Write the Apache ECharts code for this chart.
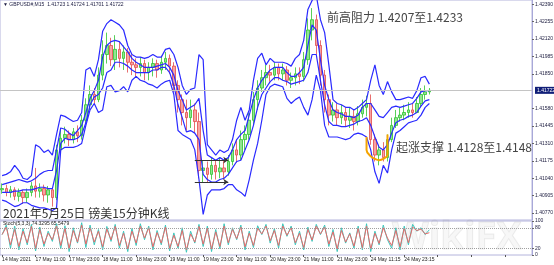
<!DOCTYPE html>
<html><head><meta charset="utf-8">
<script src="https://cdn.jsdelivr.net/npm/echarts@6/dist/echarts.min.js"></script>
<style>html,body{margin:0;padding:0;background:#fff;}#c{width:554px;height:265px;}</style>
</head><body><div id="c"></div>
<script>
// ---- data (GBPUSD M15, one sample per 1.5h) ----
const timeLabels = ['14 May 2021','17 May 11:00','17 May 23:00','18 May 11:00','18 May 23:00','19 May 11:00','19 May 23:00','20 May 11:00','20 May 23:00','21 May 11:00','21 May 23:00','24 May 11:15','24 May 23:15'];
const priceTicks = [1.40770,1.40905,1.41040,1.41175,1.41310,1.41445,1.41580,1.41850,1.41985,1.42120,1.42255,1.42390];
const stochTicks = [0,20,80,100];
const stochLevels = [20,80];
const lastPrice = 1.41722;

const openP = [
1.4095,1.4096,1.4093,1.4095,1.4090,1.4093,1.4089,1.4093,1.4098,1.4094,
1.4096,1.4091,1.4095,1.4089,1.4126,1.4135,1.4138,1.4134,1.4140,1.4137,
1.4149,1.4161,1.4169,1.4165,1.4184,1.4200,1.4207,1.4196,1.4204,1.4197,
1.4202,1.4194,1.4192,1.4190,1.4193,1.4186,1.4190,1.4193,1.4188,1.4194,
1.4197,1.4191,1.4176,1.4165,1.4155,1.4151,1.4157,1.4148,1.4110,1.4112,
1.4107,1.4114,1.4109,1.4112,1.4109,1.4117,1.4126,1.4122,1.4134,1.4138,
1.4149,1.4165,1.4174,1.4182,1.4186,1.4184,1.4190,1.4185,1.4188,1.4180,
1.4182,1.4185,1.4183,1.4196,1.4219,1.4227,1.4207,1.4184,1.4165,1.4153,
1.4157,1.4151,1.4155,1.4149,1.4152,1.4148,1.4154,1.4159,1.4162,1.4134,
1.4122,1.4126,1.4120,1.4134,1.4145,1.4151,1.4153,1.4155,1.4157,1.4155,
1.4162,1.4169,1.4171];
const closeP = [
1.4096,1.4093,1.4095,1.4090,1.4093,1.4089,1.4093,1.4098,1.4094,1.4096,
1.4091,1.4095,1.4089,1.4126,1.4135,1.4138,1.4134,1.4140,1.4137,1.4149,
1.4161,1.4169,1.4165,1.4184,1.4200,1.4207,1.4196,1.4204,1.4197,1.4202,
1.4194,1.4192,1.4190,1.4193,1.4186,1.4190,1.4193,1.4188,1.4194,1.4197,
1.4191,1.4176,1.4165,1.4155,1.4151,1.4157,1.4148,1.4110,1.4112,1.4107,
1.4114,1.4109,1.4112,1.4109,1.4117,1.4126,1.4122,1.4134,1.4138,1.4149,
1.4165,1.4174,1.4182,1.4186,1.4184,1.4190,1.4185,1.4188,1.4180,1.4182,
1.4185,1.4183,1.4196,1.4219,1.4227,1.4207,1.4184,1.4165,1.4153,1.4157,
1.4151,1.4155,1.4149,1.4152,1.4148,1.4154,1.4159,1.4162,1.4134,1.4122,
1.4126,1.4120,1.4134,1.4145,1.4151,1.4153,1.4155,1.4157,1.4155,1.4162,
1.4169,1.4171,1.41722];
const highP = [
1.4100,1.4099,1.4098,1.4097,1.4096,1.4095,1.4096,1.4101,1.4112,1.4100,
1.4099,1.4098,1.4097,1.4130,1.4143,1.4144,1.4141,1.4143,1.4145,1.4153,
1.4166,1.4176,1.4174,1.4190,1.4211,1.4217,1.4213,1.4215,1.4210,1.4207,
1.4205,1.4200,1.4197,1.4198,1.4196,1.4194,1.4197,1.4196,1.4199,1.4202,
1.4200,1.4194,1.4180,1.4169,1.4165,1.4165,1.4162,1.4155,1.4118,1.4117,
1.4120,1.4118,1.4120,1.4118,1.4122,1.4131,1.4134,1.4141,1.4145,1.4155,
1.4171,1.4180,1.4188,1.4192,1.4192,1.4194,1.4193,1.4193,1.4191,1.4186,
1.4190,1.4190,1.4202,1.4228,1.4236,1.4231,1.4211,1.4188,1.4169,1.4163,
1.4162,1.4161,1.4159,1.4159,1.4157,1.4160,1.4165,1.4168,1.4169,1.4138,
1.4130,1.4132,1.4138,1.4151,1.4157,1.4159,1.4161,1.4163,1.4162,1.4167,
1.4174,1.4176,1.4174];
const lowP = [
1.4092,1.4090,1.4089,1.4087,1.4086,1.4084,1.4085,1.4090,1.4089,1.4089,
1.4086,1.4085,1.4082,1.4087,1.4124,1.4131,1.4129,1.4131,1.4132,1.4134,
1.4146,1.4157,1.4161,1.4163,1.4180,1.4193,1.4191,1.4188,1.4190,1.4188,
1.4186,1.4184,1.4182,1.4183,1.4180,1.4180,1.4183,1.4182,1.4185,1.4188,
1.4185,1.4171,1.4155,1.4145,1.4141,1.4143,1.4139,1.4104,1.4101,1.4101,
1.4103,1.4103,1.4104,1.4103,1.4106,1.4114,1.4116,1.4118,1.4126,1.4134,
1.4145,1.4157,1.4171,1.4176,1.4179,1.4180,1.4180,1.4180,1.4176,1.4174,
1.4176,1.4177,1.4179,1.4192,1.4211,1.4200,1.4176,1.4155,1.4145,1.4148,
1.4145,1.4146,1.4144,1.4143,1.4141,1.4145,1.4151,1.4152,1.4130,1.4117,
1.4114,1.4117,1.4117,1.4132,1.4143,1.4148,1.4149,1.4151,1.4151,1.4155,
1.4159,1.4165,1.4169];

const bandUpperOuter = [
1.4106,1.4107,1.4109,1.4114,1.4110,1.4104,1.4103,1.4106,1.4130,1.4128,
1.4124,1.4126,1.4122,1.4138,1.4153,1.4152,1.4150,1.4148,1.4149,1.4155,
1.4188,1.4190,1.4183,1.4196,1.4218,1.4224,1.4227,1.4225,1.4223,1.4219,
1.4207,1.4200,1.4198,1.4198,1.4197,1.4198,1.4200,1.4198,1.4198,1.4204,
1.4205,1.4200,1.4190,1.4176,1.4169,1.4173,1.4174,1.4200,1.4196,1.4130,
1.4126,1.4122,1.4126,1.4124,1.4126,1.4134,1.4149,1.4159,1.4149,1.4157,
1.4180,1.4197,1.4201,1.4192,1.4197,1.4194,1.4194,1.4194,1.4193,1.4191,
1.4197,1.4200,1.4211,1.4235,1.4242,1.4246,1.4227,1.4217,1.4192,1.4165,
1.4162,1.4161,1.4159,1.4159,1.4157,1.4159,1.4162,1.4165,1.4180,1.4192,
1.4176,1.4169,1.4179,1.4171,1.4165,1.4165,1.4166,1.4167,1.4166,1.4172,
1.4182,1.4183,1.4177];
const bandUpperInner = [
1.4099,1.4100,1.4101,1.4102,1.4103,1.4102,1.4101,1.4102,1.4104,1.4107,
1.4109,1.4110,1.4110,1.4126,1.4143,1.4142,1.4139,1.4137,1.4141,1.4145,
1.4155,1.4166,1.4172,1.4180,1.4198,1.4207,1.4210,1.4211,1.4210,1.4206,
1.4202,1.4197,1.4194,1.4192,1.4190,1.4190,1.4190,1.4191,1.4192,1.4193,
1.4190,1.4184,1.4172,1.4165,1.4157,1.4159,1.4161,1.4166,1.4141,1.4122,
1.4120,1.4118,1.4120,1.4118,1.4120,1.4126,1.4134,1.4138,1.4141,1.4153,
1.4165,1.4174,1.4180,1.4184,1.4188,1.4190,1.4190,1.4190,1.4186,1.4183,
1.4183,1.4186,1.4190,1.4207,1.4223,1.4219,1.4196,1.4176,1.4165,1.4157,
1.4155,1.4154,1.4152,1.4152,1.4151,1.4153,1.4159,1.4162,1.4162,1.4157,
1.4152,1.4151,1.4155,1.4159,1.4160,1.4159,1.4160,1.4161,1.4162,1.4166,
1.4171,1.4172,1.4172];
const bandLowerInner = [
1.4093,1.4093,1.4093,1.4094,1.4094,1.4095,1.4095,1.4095,1.4096,1.4097,
1.4097,1.4096,1.4096,1.4110,1.4131,1.4135,1.4134,1.4134,1.4135,1.4138,
1.4147,1.4161,1.4167,1.4169,1.4174,1.4186,1.4188,1.4194,1.4194,1.4193,
1.4191,1.4188,1.4186,1.4186,1.4186,1.4186,1.4188,1.4188,1.4190,1.4190,
1.4186,1.4176,1.4161,1.4151,1.4140,1.4141,1.4139,1.4134,1.4107,1.4103,
1.4101,1.4101,1.4103,1.4104,1.4107,1.4112,1.4117,1.4118,1.4126,1.4134,
1.4145,1.4159,1.4169,1.4174,1.4179,1.4182,1.4182,1.4180,1.4179,1.4177,
1.4178,1.4179,1.4180,1.4186,1.4200,1.4200,1.4180,1.4161,1.4148,1.4145,
1.4145,1.4144,1.4144,1.4145,1.4146,1.4148,1.4149,1.4151,1.4145,1.4136,
1.4128,1.4126,1.4130,1.4139,1.4147,1.4149,1.4150,1.4152,1.4153,1.4155,
1.4160,1.4164,1.4165];
const bandLowerOuter = [
1.4087,1.4086,1.4084,1.4082,1.4083,1.4085,1.4085,1.4083,1.4082,1.4081,
1.4081,1.4080,1.4079,1.4081,1.4126,1.4128,1.4128,1.4128,1.4129,1.4131,
1.4145,1.4157,1.4162,1.4155,1.4157,1.4175,1.4176,1.4171,1.4172,1.4175,
1.4171,1.4180,1.4183,1.4180,1.4179,1.4177,1.4176,1.4174,1.4177,1.4179,
1.4180,1.4169,1.4141,1.4138,1.4136,1.4134,1.4126,1.4103,1.4076,1.4091,
1.4095,1.4095,1.4095,1.4096,1.4099,1.4099,1.4095,1.4093,1.4090,1.4103,
1.4118,1.4131,1.4149,1.4169,1.4175,1.4177,1.4176,1.4175,1.4166,1.4162,
1.4165,1.4167,1.4159,1.4153,1.4165,1.4184,1.4172,1.4145,1.4136,1.4136,
1.4136,1.4135,1.4134,1.4135,1.4138,1.4139,1.4138,1.4136,1.4126,1.4109,
1.4100,1.4114,1.4108,1.4126,1.4139,1.4141,1.4144,1.4147,1.4148,1.4149,
1.4153,1.4159,1.4162];

const stochK = [
60,88,20,85,15,78,30,90,12,82,
25,70,40,92,18,86,10,80,35,95,
22,88,30,75,15,84,40,90,20,70,
10,78,28,92,45,85,15,72,30,88,
12,65,20,80,8,70,35,90,25,85,
10,75,18,92,30,80,45,88,15,70,
22,86,60,90,35,78,20,92,55,85,
30,70,15,82,40,90,60,88,25,75,
10,80,35,65,20,85,15,92,10,70,
30,88,45,20,80,15,85,30,90,70,
80,60,74.33];
const stochD = [
60,82,30,75,25,70,36,84,20,75,
32,64,45,85,28,78,20,72,38,88,
32,80,38,70,24,76,45,84,28,64,
18,70,35,85,50,80,24,66,35,82,
20,58,25,72,15,62,38,84,32,78,
18,68,25,85,36,75,48,82,24,64,
28,78,62,85,42,72,28,85,58,80,
36,64,22,75,44,85,62,82,32,68,
18,72,38,62,26,78,22,85,18,64,
34,80,50,28,72,24,78,36,82,72,
76,62,65.55];

// annotation marks (category index, price)
const arrowLevels = [1.41181, 1.41011];
const arrowRange = [46, 54];
const supportMarkX = [87, 87, 88, 89, 90, 91, 92, 92];
const supportMarkY = [1.4136, 1.4126, 1.4121, 1.4119, 1.4118, 1.4119, 1.4122, 1.4138];
const categoryCount = 127;

// ---- chart ----
const cats = Array.from({length: categoryCount}, (_, i) => String(i));
const candles = openP.map((o, i) => [o, closeP[i], lowP[i], highP[i]]);
const smallFont = '"Liberation Sans", Arial, sans-serif';
const cjk = '"Noto Sans CJK SC", sans-serif';
const bandStyle = {color: '#2a2aff', width: 1.2};

function bandSeries(name, data) {
  return {name, type: 'line', data, xAxisIndex: 0, yAxisIndex: 0, showSymbol: false,
    symbol: 'none', lineStyle: bandStyle, silent: true, z: 3, clip: true};
}

const chart = echarts.init(document.getElementById('c'), null, {renderer: 'canvas'});
chart.setOption({
  animation: false,
  backgroundColor: '#ffffff',
  grid: [
    {left: 0, right: 22, top: 0, height: 220, show: true, borderColor: '#b4b4dc', borderWidth: 1, outerBoundsMode: 'none', containLabel: false},
    {left: 0, right: 22, top: 221, height: 34, show: true, borderColor: '#b4b4dc', borderWidth: 1, outerBoundsMode: 'none', containLabel: false}
  ],
  xAxis: [
    {type: 'category', gridIndex: 0, data: cats, boundaryGap: true, show: false},
    {type: 'category', gridIndex: 1, data: cats, boundaryGap: true,
     axisLine: {show: false},
     axisTick: {show: true, interval: 7, alignWithLabel: true, length: 2, lineStyle: {color: '#555'}},
     axisLabel: {show: true, interval: 7, align: 'left', margin: 2, fontSize: 5, color: '#222', fontFamily: smallFont,
       formatter: (v, idx) => (idx % 8 === 0 && timeLabels[idx / 8]) ? timeLabels[idx / 8] : ''}}
  ],
  yAxis: [
    {type: 'value', gridIndex: 0, position: 'right', min: 1.40716, max: 1.42423,
     splitLine: {show: false},
     axisLine: {show: true, lineStyle: {color: '#a8a8d8'}},
     axisTick: {show: true, length: 2, customValues: priceTicks, lineStyle: {color: '#666'}},
     axisLabel: {show: true, customValues: priceTicks, margin: 3, fontSize: 5, color: '#222244', fontFamily: smallFont,
       formatter: v => v.toFixed(5)}},
    {type: 'value', gridIndex: 1, position: 'right', min: 0, max: 100,
     splitLine: {show: false},
     axisLine: {show: true, lineStyle: {color: '#a8a8d8'}},
     axisTick: {show: true, length: 2, customValues: stochTicks, lineStyle: {color: '#666'}},
     axisLabel: {show: true, customValues: stochTicks, margin: 3, fontSize: 5, color: '#222244', fontFamily: smallFont}}
  ],
  series: [
    {name: 'GBPUSD', type: 'candlestick', xAxisIndex: 0, yAxisIndex: 0, data: candles, barWidth: 3, z: 2,
     itemStyle: {color: 'rgba(110,220,110,0.75)', color0: 'rgba(245,140,140,0.8)', borderColor: '#2fc42f', borderColor0: '#e24a4a', borderWidth: 0.8},
     markLine: {silent: true, symbol: ['none', 'arrow'], symbolSize: 5, animation: false,
       lineStyle: {color: '#333', width: 1, type: 'solid'}, label: {show: false},
       data: arrowLevels.map(p => [{coord: [arrowRange[0], p]}, {coord: [arrowRange[1], p]}])}},
    bandSeries('upperOuter', bandUpperOuter),
    bandSeries('upperInner', bandUpperInner),
    bandSeries('lowerInner', bandLowerInner),
    Object.assign(bandSeries('lowerOuter', bandLowerOuter), {
      markLine: {silent: true, symbol: 'none', animation: false,
        lineStyle: {color: '#c4c4c4', width: 1, type: 'solid'},
        label: {show: true, position: 'end', formatter: lastPrice.toFixed(5), color: '#fff', backgroundColor: '#101e78',
          padding: [1, 2], fontSize: 5, fontFamily: smallFont, distance: 3},
        data: [[{coord: [0, lastPrice], x: 0}, {coord: [categoryCount - 1, lastPrice], x: 532}]]}}),
    {name: 'support', type: 'line', xAxisIndex: 0, yAxisIndex: 0, smooth: 0.4, showSymbol: false, symbol: 'none',
     data: supportMarkX.map((x, i) => [x, supportMarkY[i]]), lineStyle: {color: '#f5a400', width: 2}, z: 5, silent: true},
    {name: 'StochMain', type: 'line', xAxisIndex: 1, yAxisIndex: 1, data: stochK, showSymbol: false, symbol: 'none',
     lineStyle: {color: '#3cc7bd', width: 1}, silent: true,
     markLine: {silent: true, symbol: 'none', animation: false, label: {show: false},
       lineStyle: {color: '#a0a0a0', width: 1, type: 'dotted'}, data: stochLevels.map(v => ({yAxis: v}))}},
    {name: 'StochSignal', type: 'line', xAxisIndex: 1, yAxisIndex: 1, data: stochD, showSymbol: false, symbol: 'none',
     lineStyle: {color: '#e56a6a', width: 1}, silent: true}
  ],
  graphic: [
    {type: 'text', x: 3, y: 5, style: {text: '▼ GBPUSD#,M15  1.41723 1.41724 1.41701 1.41722', font: '5px ' + smallFont, fill: '#1a1a40', verticalAlign: 'middle'}},
    {type: 'text', x: 327, y: 17, style: {text: '前高阻力 1.4207至1.4233', font: '12px ' + cjk, fill: '#454545', verticalAlign: 'middle'}},
    {type: 'text', x: 396, y: 147, style: {text: '起涨支撑 1.4128至1.4148', font: '12px ' + cjk, fill: '#454545', verticalAlign: 'middle'}},
    {type: 'text', x: 3, y: 213, z: 10, style: {text: '2021年5月25日 镑美15分钟K线', font: '12px ' + cjk, fill: '#333', verticalAlign: 'middle'}},
    {type: 'text', x: 3, y: 224, style: {text: 'Stoch(5,3,3) 74.3295 65.5479', font: '5px ' + smallFont, fill: '#222', verticalAlign: 'middle'}},
    {type: 'text', x: 392, y: 238, style: {text: 'WikiFX', font: 'bold 38px "Open Sans", sans-serif', fill: 'rgba(150,150,150,0.08)', stroke: 'rgba(150,150,150,0.15)', lineWidth: 1, verticalAlign: 'middle'}}
  ]
});
</script>
</body></html>
